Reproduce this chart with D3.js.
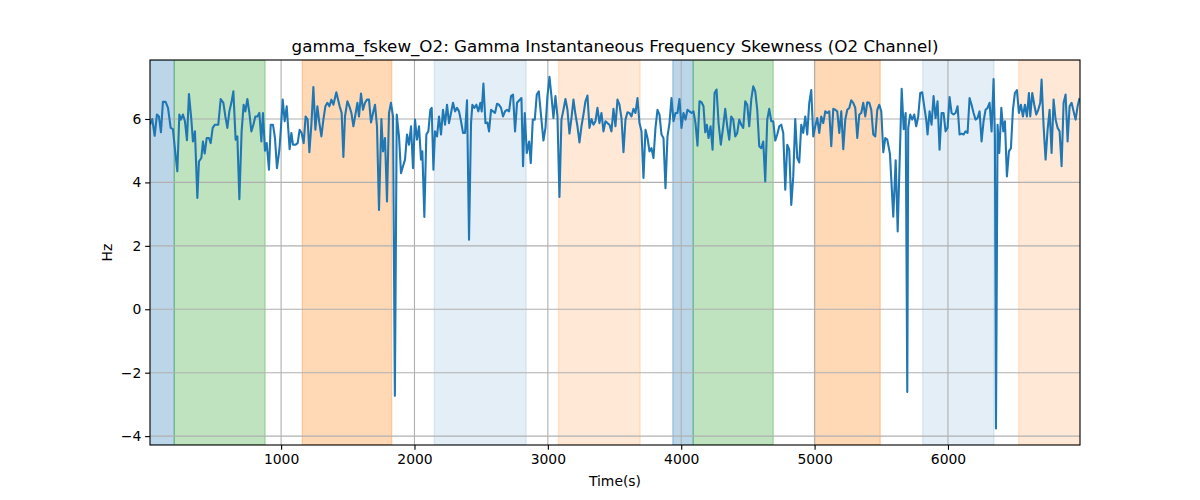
<!DOCTYPE html>
<html>
<head>
<meta charset="utf-8">
<script src="https://cdn.jsdelivr.net/npm/d3@7"></script>
<style>
  html, body { margin: 0; padding: 0; background: #fff; }
  svg text { font-family: "DejaVu Sans", sans-serif; fill: #000; }
</style>
</head>
<body>
<svg id="chart" width="1200" height="500"></svg>
<script>
// ---------------- data ----------------
const chartTitle = "gamma_fskew_O2: Gamma Instantaneous Frequency Skewness (O2 Channel)";
const xLabel = "Time(s)";
const yLabel = "Hz";
const xLimits = [17, 6990];
const yLimits = [-4.28, 7.86];
const xTickValues = [1000, 2000, 3000, 4000, 5000, 6000];
const yTickValues = [-4, -2, 0, 2, 4, 6];

// time of each sample (s)
const timeS = [
  17,34,52,69,84,99,114,134,152,172,
  189,207,222,237,249,264,279,294,309,327,
  339,354,372,384,402,414,427,442,459,472,
  487,504,529,547,567,582,597,612,627,642,
  659,672,687,704,719,732,747,762,777,792,
  807,822,837,852,864,879,892,909,922,939,
  954,969,987,997,1012,1027,1042,1054,1064,1077,
  1089,1109,1124,1139,1154,1169,1184,1199,1212,1227,
  1242,1257,1272,1287,1302,1317,1332,1347,1362,1377,
  1392,
  1414,1439,1454,1467,1479,1497,1512,1527,1542,1572,
  1584,1599,1614,1629,1644,1659,1674,1689,1704,1719,
  1734,1752,1764,1779,1794,1809,1824,1839,1853,1867,
  1884,1899,1914,1929,1944,1959,1974,1989,2004,2019,
  2034,2049,2059,2074,2089,2104,2119,2129,2142,2154,
  2169,2184,2199,2214,2229,2244,2259,2274,2289,2304,
  2319,2334,2349,2364,2379,2394,2409,2424,2434,2449,
  2464,2479,2494,2504,2517,2532,2547,2559,2574,2589,
  2604,2619,2634,2649,2664,2679,2694,2709,2724,2739,
  2754,2769,
  2802,2814,2827,2842,2860,2872,2887,2902,2917,2932,
  2947,2967,2982,2997,3012,3027,3042,3057,3072,3087,
  3102,3117,3132,3147,3162,3177,3192,3207,3222,3237,
  3252,3267,3282,3297,3312,3327,3342,3357,3372,3387,
  3402,3417,3432,3447,3462,3477,3492,3507,3522,3537,
  3552,3567,3582,3597,3612,3627,3642,3657,3672,3687,
  3702,3717,3732,3747,3762,3777,3792,3807,3822,3837,
  3852,3867,3882,3897,3912,3927,3942,3957,3972,3987,
  4002,4017,4032,4047,4062,4077,4092,4107,4122,4137,
  4152,4167,
  4180,4192,4205,4220,4235,4250,4265,4280,4297,4315,
  4330,4345,4360,4375,4390,4405,4420,4435,4450,4465,
  4480,4495,4510,4525,4540,4555,4570,4585,4600,4615,
  4630,4645,4660,4675,4690,4705,4720,4735,4750,4765,
  4780,4795,4810,4825,4840,4855,4870,4885,4900,4915,
  4930,4945,4960,4975,4990,5005,5020,5035,5050,5065,
  5080,5095,5110,5125,5140,5155,5170,5185,5200,5215,
  5230,5245,5260,5275,5290,5305,5320,5335,5350,5365,
  5380,5395,5410,5425,5440,5455,5470,5485,5500,5515,
  5530,5545,
  5565,5590,5608,5623,5653,5668,5683,5695,5702,5717,
  5732,5747,5762,5777,5792,5807,5822,5837,5847,5862,
  5877,5892,5907,5922,5937,5952,5967,5982,5997,6012,
  6027,6042,6057,6072,6087,6102,6117,6132,6147,6162,
  6177,6192,6207,6222,6237,6252,6267,6282,6297,6312,
  6327,6342,6352,6360,6372,6385,6400,6415,6427,6442,
  6457,6472,6487,6502,6517,6532,6547,6562,6577,6592,
  6607,6617,6632,6647,6662,6677,6692,6702,6717,6732,
  6747,6762,6777,6792,6807,6822,6837,6852,6867,6882,
  6897,6912,6927,6942,6957,6972,6987
];

// gamma frequency skewness (Hz)
const skewHz = [
  5.82,6.00,5.47,6.14,6.08,5.58,6.54,6.54,6.35,5.72,
  5.68,4.93,4.35,6.14,5.98,6.14,5.93,5.33,6.79,5.98,
  5.29,5.61,3.51,4.66,4.77,5.29,4.91,5.40,5.40,5.24,
  5.72,5.82,5.82,6.63,6.51,6.08,5.72,6.24,6.51,6.87,
  5.35,5.45,3.47,5.61,6.45,6.24,6.63,6.19,5.61,5.82,
  6.08,6.08,6.19,5.29,6.19,5.00,5.24,4.40,5.82,5.82,
  5.40,4.45,5.03,5.61,6.61,5.93,6.40,5.66,5.05,5.56,
  5.19,5.19,5.24,5.66,5.56,5.24,6.08,5.98,4.95,5.82,
  7.01,5.66,6.40,5.87,5.45,5.98,6.40,6.51,6.40,6.61,
  6.45,
  6.84,6.40,6.19,4.80,6.08,6.56,6.40,6.19,5.77,6.51,
  6.08,6.80,6.29,6.51,6.61,6.61,5.89,6.19,6.45,5.77,
  3.13,6.00,4.98,5.40,3.40,6.19,6.51,6.08,-2.73,6.14,
  5.45,4.29,4.51,4.72,5.51,5.19,5.77,4.45,5.98,5.35,
  5.77,4.72,4.98,2.91,5.51,5.61,6.29,6.35,4.40,5.61,
  5.45,6.08,5.51,6.29,5.82,6.45,5.87,6.19,6.51,6.24,
  6.35,6.24,5.93,5.56,5.56,6.59,2.19,5.87,6.45,6.35,
  6.45,6.24,6.51,6.24,7.12,5.87,5.89,5.61,6.29,6.24,
  6.19,6.48,6.45,6.35,6.08,6.24,6.29,6.24,6.72,6.77,
  5.61,6.51,
  6.66,4.51,6.19,4.93,5.29,4.61,5.98,5.98,6.77,6.87,
  6.19,5.32,5.72,6.72,7.33,6.72,6.03,6.72,6.08,3.54,
  5.98,6.29,6.63,6.29,5.54,6.03,6.61,6.14,5.77,5.26,
  5.77,6.14,6.56,6.74,5.72,6.00,5.82,5.93,6.35,5.87,
  6.19,5.61,5.93,5.87,5.82,5.61,6.32,5.77,6.61,6.45,
  6.03,4.95,5.98,6.21,6.19,6.08,6.32,6.19,6.66,5.87,
  5.61,4.14,5.66,5.40,4.98,5.08,4.77,5.72,6.29,6.14,
  5.51,5.40,3.82,5.45,5.87,6.66,5.93,6.19,6.19,6.63,
  5.72,6.19,5.98,6.29,6.24,6.19,6.24,5.87,5.16,6.56,
  6.53,6.40,
  5.58,5.82,5.40,5.77,5.03,6.82,6.93,5.87,5.19,5.77,
  6.32,5.77,5.35,6.08,5.98,5.45,5.56,5.98,5.82,5.72,
  6.56,6.45,5.77,6.61,7.03,6.87,6.29,5.14,5.08,5.29,
  4.03,5.98,6.32,5.93,5.93,5.32,5.51,5.77,5.82,5.56,
  3.77,5.19,5.03,3.29,4.19,6.00,4.77,4.63,5.82,5.56,
  6.08,5.51,6.51,6.91,5.45,5.77,6.03,5.56,6.08,5.87,
  6.24,6.19,6.24,5.14,6.32,6.29,6.24,5.56,6.24,5.05,
  5.98,6.29,6.35,6.59,6.51,6.35,5.40,6.14,6.19,6.51,
  6.08,6.53,6.51,6.29,5.51,5.45,6.29,6.45,6.24,4.95,
  5.40,5.35,
  4.90,2.92,4.70,2.45,6.95,5.68,6.19,-2.61,5.72,6.14,
  5.98,6.14,5.77,6.08,6.82,6.84,6.40,5.98,5.51,6.24,
  5.82,6.72,6.03,6.56,5.03,6.19,6.19,5.61,5.72,6.69,
  6.19,6.14,6.19,6.40,5.51,5.54,5.51,5.61,5.56,6.66,
  6.45,6.19,5.98,6.03,6.24,5.29,5.93,6.29,6.35,6.51,
  5.61,7.26,5.45,-3.76,5.82,4.93,6.35,5.61,5.93,4.19,
  4.98,5.08,6.29,6.82,6.91,6.19,6.45,6.08,6.45,6.08,
  6.82,6.08,6.82,6.45,6.14,6.29,6.51,7.24,5.77,4.72,
  5.66,6.29,4.93,6.61,5.98,5.72,5.61,4.51,6.51,6.77,
  5.29,6.40,6.51,6.24,5.98,6.40,6.66
];

// shaded time segments
const spanStart = [0,   199, 1159, 2149, 3080, 3937, 4090, 5000, 5810, 6530];
const spanEnd   = [199, 880, 1829, 2837, 3692, 4090, 4690, 5492, 6345, 7000];
const spanColor = ["#1f77b4","#2ca02c","#ff7f0e","#1f77b4","#ff7f0e","#1f77b4","#2ca02c","#ff7f0e","#1f77b4","#ff7f0e"];
const spanAlpha = [0.3, 0.3, 0.3, 0.12, 0.17, 0.3, 0.3, 0.3, 0.12, 0.17];

// ---------------- chart ----------------
const W = 1200, H = 500;
const margin = {left: 150, right: 120, top: 60, bottom: 55};
const iw = W - margin.left - margin.right;
const ih = H - margin.top - margin.bottom;
const pt = 100 / 72;

const svg = d3.select("#chart");
const g = svg.append("g").attr("transform", `translate(${margin.left},${margin.top})`);

const x = d3.scaleLinear().domain(xLimits).range([0, iw]);
const y = d3.scaleLinear().domain(yLimits).range([ih, 0]);

svg.append("defs").append("clipPath").attr("id", "clip")
  .append("rect").attr("width", iw).attr("height", ih);

const plot = g.append("g").attr("clip-path", "url(#clip)");

// spans
const spans = spanStart.map((s, i) => ({s, e: spanEnd[i], c: spanColor[i], a: spanAlpha[i]}));
plot.selectAll("rect.span").data(spans).join("rect")
  .attr("class", "span")
  .attr("x", d => x(d.s))
  .attr("width", d => x(d.e) - x(d.s))
  .attr("y", 0).attr("height", ih)
  .attr("fill", d => d.c).attr("fill-opacity", d => d.a)
  .attr("stroke", d => d.c).attr("stroke-opacity", d => d.a).attr("stroke-width", pt);

// grid
plot.selectAll("line.gx").data(xTickValues).join("line")
  .attr("x1", d => x(d)).attr("x2", d => x(d))
  .attr("y1", 0).attr("y2", ih)
  .attr("stroke", "#b0b0b0").attr("stroke-width", 0.8 * pt);
plot.selectAll("line.gy").data(yTickValues).join("line")
  .attr("y1", d => y(d)).attr("y2", d => y(d))
  .attr("x1", 0).attr("x2", iw)
  .attr("stroke", "#b0b0b0").attr("stroke-width", 0.8 * pt);

// line
const series = d3.zip(timeS, skewHz);
plot.append("path").datum(series)
  .attr("fill", "none")
  .attr("stroke", "#1f77b4")
  .attr("stroke-width", 1.5 * pt)
  .attr("stroke-linejoin", "round")
  .attr("d", d3.line().x(d => x(d[0])).y(d => y(d[1])));

// axes
const fmt = d => (d < 0 ? "\u2212" + Math.abs(d) : String(d));
const xAxis = g.append("g").attr("transform", `translate(0,${ih})`)
  .call(d3.axisBottom(x).tickValues(xTickValues).tickSize(3.5 * pt).tickPadding(3.5 * pt - 1).tickFormat(fmt));
const yAxis = g.append("g")
  .call(d3.axisLeft(y).tickValues(yTickValues).tickSize(3.5 * pt).tickPadding(3.5 * pt - 1).tickFormat(fmt));
[xAxis, yAxis].forEach(a => {
  a.select(".domain").remove();
  a.selectAll(".tick line").attr("stroke", "#000").attr("stroke-width", 0.8 * pt);
  a.selectAll(".tick text").attr("font-size", "13.9px").attr("font-family", "DejaVu Sans, sans-serif").attr("fill", "#000");
});

// frame
g.append("rect").attr("width", iw).attr("height", ih)
  .attr("fill", "none").attr("stroke", "#000").attr("stroke-width", 0.8 * pt);

// labels
svg.append("text").attr("x", margin.left + iw / 2).attr("y", 51.7)
  .attr("text-anchor", "middle").attr("font-size", "16.7px").text(chartTitle);
svg.append("text").attr("x", margin.left + iw / 2).attr("y", 486)
  .attr("text-anchor", "middle").attr("font-size", "13.9px").text(xLabel);
svg.append("text")
  .attr("transform", `translate(112,${margin.top + ih / 2}) rotate(-90)`)
  .attr("text-anchor", "middle").attr("font-size", "13.9px").text(yLabel);
</script>
</body>
</html>
